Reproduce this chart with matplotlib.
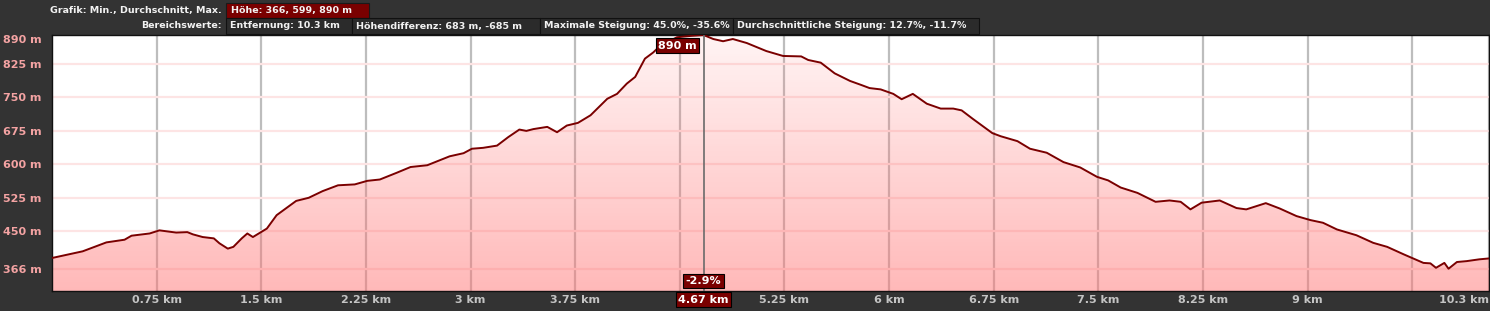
import numpy as np
import matplotlib
matplotlib.use("Agg")
import matplotlib.pyplot as plt
from matplotlib.patches import Rectangle
from matplotlib.transforms import blended_transform_factory

# --- Daten ---
dist_km = [0.0, 0.22, 0.39, 0.52, 0.57, 0.70, 0.77, 0.89, 0.97, 1.01, 1.08, 1.16,
           1.20, 1.26, 1.30, 1.36, 1.40, 1.44, 1.54, 1.61, 1.75, 1.84, 1.94, 2.05,
           2.17, 2.26, 2.35, 2.47, 2.57, 2.69, 2.85, 2.95, 3.01, 3.09, 3.19, 3.27,
           3.35, 3.40, 3.45, 3.55, 3.62, 3.69, 3.77, 3.86, 3.98, 4.05, 4.12, 4.18,
           4.25, 4.31, 4.36, 4.48, 4.58, 4.67, 4.74, 4.81, 4.88, 4.98, 5.12, 5.24,
           5.37, 5.42, 5.51, 5.61, 5.72, 5.80, 5.86, 5.94, 6.03, 6.09, 6.17, 6.27,
           6.37, 6.46, 6.52, 6.60, 6.74, 6.80, 6.92, 7.01, 7.13, 7.25, 7.37, 7.49,
           7.57, 7.66, 7.78, 7.91, 8.01, 8.09, 8.16, 8.24, 8.37, 8.49, 8.56, 8.70,
           8.80, 8.92, 9.02, 9.11, 9.21, 9.35, 9.47, 9.57, 9.69, 9.83, 9.88, 9.92,
           9.98, 10.01, 10.07, 10.14, 10.23, 10.30]
elev_m = [390, 405, 425, 431, 440, 445, 452, 447, 448, 443, 437, 434,
          423, 411, 415, 434, 445, 437, 456, 486, 518, 525, 540, 553,
          555, 563, 566, 581, 594, 598, 618, 625, 635, 637, 642, 661,
          678, 675, 679, 684, 672, 687, 693, 710, 747, 758, 781, 796,
          837, 851, 866, 885, 888, 890, 881, 876, 881, 872, 854, 843,
          842, 834, 828, 804, 787, 778, 771, 768, 758, 746, 758, 736,
          725, 725, 721, 702, 670, 663, 652, 635, 626, 605, 593, 572,
          564, 548, 536, 516, 519, 516, 499, 514, 519, 502, 499, 513,
          501, 484, 475, 469, 454, 441, 424, 415, 398, 379, 378, 368,
          379, 366, 381, 383, 387, 389]

y_ticks = [366, 450, 525, 600, 675, 750, 825, 890]
x_ticks = [0.75, 1.5, 2.25, 3, 3.75, 4.5, 5.25, 6, 6.75, 7.5, 8.25, 9, 9.75, 10.3]
x_labels = ["0.75 km", "1.5 km", "2.25 km", "3 km", "3.75 km", "", "5.25 km",
            "6 km", "6.75 km", "7.5 km", "8.25 km", "9 km", "", "10.3 km"]

cursor_km = 4.67
cursor_grade = "-2.9%"
peak_label = "890 m"

row1_title = "Grafik: Min., Durchschnitt, Max."
row1_boxes = ["Höhe: 366, 599, 890 m"]
row2_title = "Bereichswerte:"
row2_boxes = ["Entfernung: 10.3 km", "Höhendifferenz: 683 m, -685 m",
              "Maximale Steigung: 45.0%, -35.6%",
              "Durchschnittliche Steigung: 12.7%, -11.7%"]

W, H = 1490, 311
BG = "#333333"
LINE = "#7a0000"


def fx(px):
    return px / W


def fy(py):
    return 1 - py / H


fig = plt.figure(figsize=(W / 100, H / 100), dpi=100, facecolor=BG)

# --- Kopfzeilen ---
hdr = dict(color="#f2f2f2", fontsize=6.8, fontweight="bold", va="center")
fig.text(fx(222), fy(10), row1_title, ha="right", **hdr)
fig.text(fx(222), fy(26), row2_title, ha="right", **hdr)

fig.patches.append(Rectangle((fx(226), fy(17.5)), fx(369) - fx(226), fy(2.5) - fy(17.5),
                             transform=fig.transFigure, fc="#7a0000", ec="#1a1a1a", lw=0.8))
fig.text(fx(231), fy(10), row1_boxes[0], ha="left", **hdr)

edges = [226, 352, 540, 733, 979]
for i, txt in enumerate(row2_boxes):
    x0, x1 = edges[i], edges[i + 1]
    fig.patches.append(Rectangle((fx(x0), fy(33.5)), fx(x1) - fx(x0), fy(18.5) - fy(33.5),
                                 transform=fig.transFigure, fc="#2b2b2b", ec="#111111", lw=0.8))
    fig.text(fx(x0 + 4), fy(26), txt, ha="left", **hdr)

# --- Profil ---
ax = fig.add_axes([fx(52), fy(291), fx(1489) - fx(52), fy(35) - fy(291)])
ax.set_facecolor("white")
ymin, ymax = 316, 890
ax.set_xlim(0, dist_km[-1])
ax.set_ylim(ymin, ymax)

ax.set_axisbelow(True)
ax.yaxis.grid(True, color="#fde4e4", lw=1.6)
ax.xaxis.grid(True, color="#bdbdbd", lw=1.6)

# Verlaufsfuellung (oben hell, unten kraeftiger)
poly = ax.fill_between(dist_km, elev_m, ymin, color="none", lw=0)
alpha = np.linspace(0.5, 0.08, 256)[:, None]
grad = np.zeros((256, 1, 4))
grad[..., 0] = 1.0
grad[..., 1] = 0.45
grad[..., 2] = 0.45
grad[..., 3] = alpha
im = ax.imshow(grad, extent=(0, dist_km[-1], ymin, ymax), origin="lower",
               aspect="auto", zorder=1.5, interpolation="bilinear")
im.set_clip_path(poly.get_paths()[0], transform=ax.transData)

ax.plot(dist_km, elev_m, color=LINE, lw=1.4, zorder=3)
ax.axvline(cursor_km, color="#6a6a6a", lw=1.2, zorder=3.5)

# Achsen
ax.set_yticks(y_ticks)
ax.set_yticklabels([f"{v} m" for v in y_ticks])
ax.tick_params(axis="y", length=0, pad=35, labelcolor="#f4a3a3", labelsize=8)
for lab in ax.get_yticklabels():
    lab.set_ha("left")
    lab.set_fontweight("bold")
ax.get_yticklabels()[-1].set_va("top")
ax.get_ygridlines()[-1].set_visible(False)

ax.set_xticks(x_ticks)
ax.set_xticklabels(x_labels)
ax.tick_params(axis="x", length=0, pad=3, labelcolor="#c4c4c4", labelsize=8)
for lab in ax.get_xticklabels():
    lab.set_fontweight("bold")
ax.get_xticklabels()[-1].set_ha("right")

for s in ax.spines.values():
    s.set_color("#111111")
    s.set_linewidth(1)

# Cursor-Beschriftungen
box = dict(boxstyle="square,pad=0.2", fc="#7a0000", ec="black", lw=0.8)
lbl = dict(color="white", fontsize=8, fontweight="bold")
ax.annotate(peak_label, xy=(cursor_km, ymax), xytext=(-5, -4), textcoords="offset points",
            ha="right", va="top", bbox=box, zorder=5, **lbl)
tr = blended_transform_factory(ax.transData, ax.transAxes)
ax.text(cursor_km, 0.04, cursor_grade, transform=tr, ha="center", va="center",
        bbox=box, zorder=5, **lbl)
ax.text(cursor_km, -0.014, f"{cursor_km} km", transform=tr, ha="center", va="top",
        bbox=box, zorder=5, clip_on=False, **lbl)

fig.savefig("out.png", dpi=100, facecolor=BG)
